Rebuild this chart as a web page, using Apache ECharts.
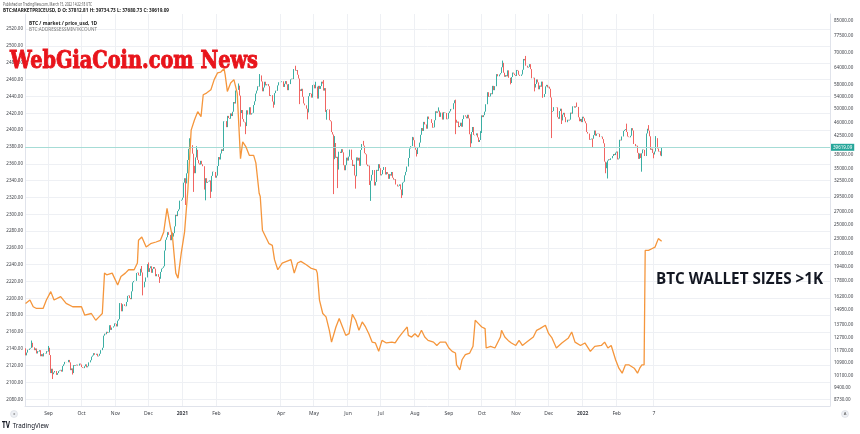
<!DOCTYPE html>
<html><head><meta charset="utf-8">
<script src="https://cdn.jsdelivr.net/npm/echarts@6/dist/echarts.min.js"></script>
<style>html,body{margin:0;padding:0;background:#fff}#c{width:860px;height:434px}</style>
</head><body><div id="c"></div><script>
// ---------------- DATA ----------------
const startDate = '2020-08-11';     // first daily candle / first category
const axisDays = 734;               // categories on the time axis (incl. empty future space)
const btcFirstOpen = 11880;         // open of the first candle (previous close)
// BTC daily closes, 2020-08-11 .. 2022-03-14
const btcClose = [
11390,11580,11780,11770,11860,11910,12280,11950,11750,11870,11520,11680,11650,11750,11330,11470,11320,11540,11510,11680,11650,
11920,11410,10240,10510,10170,10280,10370,10130,10240,10360,10400,10440,10330,10680,10790,10950,10940,10930,11080,10920,10420,10530,10240,10740,10690,10730,10770,10710,10840,10780,
10620,10570,10550,10670,10790,10600,10670,10920,11060,11300,11380,11540,11430,11430,11500,11320,11360,11500,11750,11920,12820,12970,12930,13120,13030,13070,13650,13270,13460,13560,13800,
13760,13550,14030,14150,15590,15580,14840,15480,15330,15300,15700,16280,16320,16070,15960,16730,17660,17800,17820,18680,18720,18420,18370,19160,18740,17150,17140,17720,18180,19700,
18800,19220,19450,18700,19150,19360,19170,18320,18550,18250,18040,18800,19170,19270,19440,21380,22800,23140,23870,23480,22740,23820,23240,23730,24710,26490,26280,27080,27360,28840,29000,
29370,32130,33000,31990,33990,36820,39370,40800,40250,38240,35540,34010,37390,39150,36830,36070,35820,36630,35890,35470,30830,33000,32100,32290,32370,32570,30430,33470,34320,34270,33110,
33520,35510,37470,36930,38290,39260,38870,46450,46500,44850,47990,47380,47170,48720,47940,49200,52150,51680,55890,56100,57540,54200,48820,49710,47070,46340,46160,45140,
49630,48380,50540,48370,48750,48880,51210,52380,54880,55860,57330,57210,61190,59000,55630,56900,58910,57650,58030,58100,57350,54100,54340,52300,51320,55020,55840,55780,57630,58730,58740,
58760,59050,57100,58200,59130,57990,56000,58090,58090,59770,60000,59860,63570,62960,63220,61440,60060,56270,55710,56470,53810,51700,51140,50100,49000,54020,55030,54820,53560,57750,
57830,56630,57210,53240,57470,56430,57380,58930,58280,55860,56700,49150,49720,49880,46760,46450,43540,42910,37000,40780,37300,37530,34770,38700,38400,39290,38550,35680,34620,35690,37340,
36690,37580,39190,36850,35520,35800,33550,33400,37390,36690,37310,35550,39100,40520,40140,38350,38100,35820,35480,35600,31680,32510,33680,34660,31590,32280,34700,34500,35910,35040,
33570,33800,34670,35290,33750,34240,33860,32880,33820,33520,34260,33090,32730,32820,31780,31420,31530,31800,30840,29790,32140,32310,33580,34290,35400,37270,39460,40000,40030,42200,41460,
39850,39150,38150,39740,40870,42830,44610,43830,46290,45600,45560,44430,47790,47100,47050,45990,44690,44800,46760,49340,48880,49280,49510,47700,48960,46940,49060,48900,48830,47030,47170,
48850,49320,50030,49940,51770,52700,46880,46080,46370,44850,45160,46060,44960,47090,48150,47770,47290,48310,47260,42970,40700,43560,44890,42810,42700,43200,42170,41030,41520,43790,
48140,47640,48200,49220,51470,55320,53800,53930,54970,54660,57470,56000,57370,57350,61670,60870,61530,62040,64260,65990,62200,60690,61290,60860,63080,60320,58470,60590,62250,61880,61320,
61000,63230,62940,61440,61010,61530,63300,67550,66970,64880,64860,64150,64400,65470,63560,60160,60350,56900,58120,59730,58700,56300,57570,57170,58960,53730,54740,57290,57810,56950,
57180,56480,53600,49200,49400,50580,50600,50500,47600,47150,49400,50100,46700,48380,48870,47640,46200,46880,46680,46910,48930,48630,50820,50850,50430,50800,50640,47590,46470,47120,46220,
47740,47310,46460,45900,43570,43150,41560,41680,41870,41830,42740,43950,42590,43100,43180,43090,42250,42370,41740,40700,36460,35050,36290,36690,36980,36830,37200,37720,38170,37920,38480,
38740,36950,37150,41570,41410,42410,43840,44110,44340,43570,42410,42240,42200,42580,44580,43960,40540,40010,40120,38430,37070,38290,37260,38330,39220,39120,37710,43190,
44420,43920,42450,39150,39400,38420,38060,38740,41980,39440,38730,38810,37812.81,39619.09
];
const btcHighWicks = [['2020-08-17',12450],['2020-09-01',12050],['2020-11-25',19480],['2020-12-01',19900],['2021-01-08',41950],['2021-01-14',40000],['2021-02-21',58300],['2021-03-13',61700],['2021-04-14',64850],['2021-05-03',58900],['2021-05-10',59500],['2021-05-20',42500],['2021-06-15',41300],['2021-07-30',42300],['2021-08-23',50500],['2021-09-07',52900],['2021-10-20',66900],['2021-11-10',68790],['2021-12-27',52000],['2022-02-10',45800],['2022-03-02',45400],['2022-03-09',42500],['2022-03-14',39734.73]];
const btcLowWicks = [['2020-09-05',9880],['2020-09-23',10150],['2020-11-26',16330],['2020-12-11',17600],['2021-01-04',28100],['2021-01-11',30400],['2021-01-22',28900],['2021-01-27',29300],['2021-02-23',45000],['2021-02-28',43000],['2021-03-25',50400],['2021-04-18',51500],['2021-04-25',47000],['2021-05-13',46900],['2021-05-19',30000],['2021-05-23',31100],['2021-06-08',31000],['2021-06-22',28800],['2021-07-20',29300],['2021-08-03',37600],['2021-09-07',43000],['2021-09-21',39600],['2021-10-01',43300],['2021-10-27',58000],['2021-11-18',55600],['2021-11-26',53500],['2021-12-04',42000],['2021-12-13',45700],['2022-01-10',39700],['2022-01-22',34000],['2022-01-24',32950],['2022-02-24',34320],['2022-03-07',37200],['2022-03-14',37680.73]];
// Addresses holding >= 1K BTC (left scale)
const addrSeries = [
['2020-08-11',2194],['2020-08-15',2198],['2020-08-18',2190],['2020-08-21',2188],['2020-08-27',2188],['2020-08-30',2198],['2020-09-03',2208],['2020-09-06',2198],['2020-09-12',2202],['2020-09-17',2194],['2020-09-23',2190],['2020-10-01',2190],['2020-10-04',2180],['2020-10-10',2182],['2020-10-14',2174],['2020-10-17',2178],['2020-10-20',2182],['2020-10-22',2230],['2020-10-24',2228],['2020-10-29',2230],['2020-11-03',2216],['2020-11-06',2226],['2020-11-10',2230],['2020-11-13',2234],['2020-11-18',2234],['2020-11-21',2242],['2020-11-22',2269],['2020-11-25',2273],['2020-11-29',2261],['2020-12-03',2265],['2020-12-08',2267],['2020-12-12',2269],['2020-12-15',2279],['2020-12-18',2307],['2020-12-21',2285],['2020-12-23',2273],['2020-12-26',2230],['2020-12-28',2224],['2020-12-31',2254],
['2021-01-03',2279],['2021-01-06',2329],['2021-01-09',2400],['2021-01-12',2412],['2021-01-15',2422],['2021-01-18',2416],['2021-01-20',2442],['2021-01-23',2444],['2021-01-27',2448],['2021-01-30',2460],['2021-02-02',2468],['2021-02-05',2469],['2021-02-08',2473],['2021-02-09',2466],['2021-02-11',2446],['2021-02-14',2456],['2021-02-17',2460],['2021-02-20',2444],['2021-02-22',2392],['2021-02-23',2366],['2021-02-25',2386],['2021-02-28',2380],['2021-03-03',2370],['2021-03-07',2370],['2021-03-09',2361],['2021-03-12',2325],['2021-03-13',2321],['2021-03-15',2281],['2021-03-18',2273],['2021-03-21',2265],['2021-03-24',2263],['2021-03-26',2246],['2021-03-29',2234],['2021-04-02',2242],['2021-04-06',2244],['2021-04-10',2246],['2021-04-13',2230],['2021-04-16',2242],['2021-04-19',2244],['2021-04-24',2240],['2021-04-28',2236],['2021-05-03',2234],['2021-05-04',2230],['2021-05-06',2198],['2021-05-09',2182],['2021-05-12',2178],['2021-05-15',2162],['2021-05-17',2148],['2021-05-21',2166],['2021-05-24',2176],['2021-05-27',2166],['2021-05-30',2156],['2021-06-02',2158],['2021-06-05',2181],['2021-06-08',2174],['2021-06-11',2162],['2021-06-14',2172],['2021-06-17',2166],['2021-06-20',2158],['2021-06-23',2148],['2021-06-26',2147],['2021-06-29',2137],['2021-07-02',2150],['2021-07-06',2147],['2021-07-11',2148],['2021-07-14',2147],['2021-07-17',2153],['2021-07-20',2158],['2021-07-25',2166],['2021-07-26',2156],['2021-07-29',2154],['2021-08-01',2158],['2021-08-04',2154],['2021-08-07',2162],['2021-08-10',2154],['2021-08-13',2150],['2021-08-18',2148],['2021-08-21',2144],['2021-08-24',2148],['2021-08-29',2148],['2021-09-01',2141],['2021-09-04',2137],['2021-09-07',2135],['2021-09-08',2121],['2021-09-11',2115],['2021-09-13',2127],['2021-09-16',2133],['2021-09-20',2135],['2021-09-23',2143],['2021-09-25',2174],['2021-09-28',2170],['2021-10-01',2166],['2021-10-04',2164],['2021-10-05',2141],['2021-10-09',2143],['2021-10-13',2141],['2021-10-18',2154],['2021-10-19',2162],['2021-10-22',2154],['2021-10-25',2150],['2021-10-28',2147],['2021-11-01',2144],['2021-11-04',2150],['2021-11-07',2144],['2021-11-11',2148],['2021-11-17',2154],['2021-11-20',2162],['2021-11-23',2164],['2021-11-28',2168],['2021-12-01',2158],['2021-12-04',2153],['2021-12-08',2141],['2021-12-13',2147],['2021-12-19',2153],['2021-12-22',2160],['2021-12-25',2148],['2021-12-30',2144],
['2022-01-03',2147],['2022-01-08',2137],['2022-01-12',2143],['2022-01-18',2144],['2022-01-21',2148],['2022-01-24',2141],['2022-01-27',2144],['2022-01-31',2127],['2022-02-03',2117],['2022-02-06',2111],['2022-02-09',2121],['2022-02-12',2121],['2022-02-17',2117],['2022-02-20',2111],['2022-02-22',2117],['2022-02-24',2121],['2022-02-26',2121],['2022-02-27',2257],['2022-03-02',2257],['2022-03-05',2259],['2022-03-08',2261],['2022-03-11',2271],['2022-03-14',2268]
];
const lastPrice = 39619.09;
const lastAddr = 2268;
const leftTicks = [2080,2100,2120,2140,2160,2180,2200,2220,2240,2260,2280,2300,2320,2340,2360,2380,2400,2420,2440,2460,2480,2500,2520];
const rightTicks = [85000,77500,70000,64000,58000,54000,50000,46000,42500,38000,35000,32500,29500,27000,25000,23000,21000,19400,17800,16200,14950,13700,12700,11700,10900,10100,9400,8730];
const xTickDates = ['2020-09-01','2020-10-01','2020-11-01','2020-12-01','2021-01-01','2021-02-01','2021-04-01','2021-05-01','2021-06-01','2021-07-01','2021-08-01','2021-09-01','2021-10-01','2021-11-01','2021-12-01','2022-01-01','2022-02-01','2022-03-07'];
const xTickLabels = ['Sep','Oct','Nov','Dec','2021','Feb','Apr','May','Jun','Jul','Aug','Sep','Oct','Nov','Dec','2022','Feb','7'];

// ---------------- BUILD ----------------
const t0 = Date.parse(startDate + 'T00:00:00Z');
const dayStr = i => new Date(t0 + i * 864e5).toISOString().slice(0, 10);
const categories = [];
for (let i = 0; i < axisDays; i++) categories.push(dayStr(i));
const hiMap = new Map(btcHighWicks), loMap = new Map(btcLowWicks);
const ln = Math.log;
const candles = btcClose.map((c, i) => {
  const o = i === 0 ? btcFirstOpen : btcClose[i - 1];
  const d = dayStr(i);
  let hi = Math.max(o, c), lo = Math.min(o, c);
  if (hiMap.has(d)) hi = Math.max(hi, hiMap.get(d));
  if (loMap.has(d)) lo = Math.min(lo, loMap.get(d));
  return [ln(o), ln(c), ln(lo), ln(hi)];
});
const tickSet = new Set(xTickDates);
const tickLabelMap = new Map(xTickDates.map((d, i) => [d, xTickLabels[i]]));

// layout constants (pixel geometry of the chart frame)
const GRID = { left: 25, right: 30, top: 14, bottom: 28 };
const leftMin = 2072.04, leftMax = 2538.04;
const rightLnMin = 9.03629, rightLnMax = 11.39064;

const measure = (() => { const cx = document.createElement('canvas').getContext('2d');
  return (text, font) => { cx.font = font; return cx.measureText(text).width; }; })();
function fitText(text, x, y, width, size, family, weight, color, strokeW) {
  const font = (weight || 'normal') + ' ' + size + 'px ' + family;
  const w = measure(text, font);
  const style = { text: text, fontSize: size, fontFamily: family, fontWeight: weight || 'normal', fill: color, textAlign: 'left', textVerticalAlign: 'middle' };
  if (strokeW) { style.stroke = color; style.lineWidth = strokeW; }
  return { type: 'text', x: x, y: y, scaleX: width / w, silent: true, z: 100, style: style };
}
const AX_FONT = 'Noto Sans';
const labelColor = '#3b3e45';
const gridColor = '#eef0f4';

const chart = echarts.init(document.getElementById('c'), null, { renderer: 'canvas' });
chart.setOption({
  animation: false,
  backgroundColor: '#ffffff',
  grid: GRID,
  xAxis: {
    type: 'category', data: categories, boundaryGap: true,
    axisLine: { show: true, lineStyle: { color: '#e0e3eb', width: 1 } },
    axisTick: { show: false },
    axisLabel: {
      interval: (idx, v) => tickSet.has(v),
      formatter: v => { const l = tickLabelMap.get(v) || ''; return /^\d{4}$/.test(l) ? '{b|' + l + '}' : l; },
      fontSize: 5, fontFamily: AX_FONT, color: labelColor, margin: 5,
      rich: { b: { fontSize: 5, fontWeight: 'bold', fontFamily: AX_FONT, color: labelColor } }
    },
    splitLine: { show: true, interval: (idx, v) => tickSet.has(v), lineStyle: { color: gridColor, width: 1 } }
  },
  yAxis: [
    { type: 'value', position: 'left', min: leftMin, max: leftMax,
      axisLine: { show: true, lineStyle: { color: '#e0e3eb' } },
      axisTick: { show: false, customValues: leftTicks },
      axisLabel: { customValues: leftTicks, formatter: v => v.toFixed(2), fontSize: 4.5, fontFamily: AX_FONT, color: labelColor, margin: 2 },
      splitLine: { show: true, lineStyle: { color: gridColor, width: 1 } } },
    { type: 'value', position: 'right', min: rightLnMin, max: rightLnMax,
      axisLine: { show: true, lineStyle: { color: '#e0e3eb' } },
      axisTick: { show: false, customValues: rightTicks.map(ln) },
      axisLabel: { customValues: rightTicks.map(ln), formatter: v => Math.round(Math.exp(v)).toFixed(2), fontSize: 4.5, fontFamily: AX_FONT, color: labelColor, margin: 4 },
      splitLine: { show: false } }
  ],
  series: [
    { type: 'candlestick', name: 'BTC', xAxisIndex: 0, yAxisIndex: 1, data: candles,
      barWidth: 1, clip: true,
      itemStyle: { color: '#26a69a', color0: '#ef5350', borderColor: '#26a69a', borderColor0: '#ef5350', borderWidth: 0.9 },
      markLine: { silent: true, symbol: 'none', animation: false,
        lineStyle: { color: '#a6dcd6', width: 1, type: 'solid' },
        label: { show: true, position: 'end', distance: 1, formatter: lastPrice.toFixed(2), color: '#fff', backgroundColor: '#26a69a', fontSize: 4.5, fontFamily: AX_FONT, padding: [1, 2] },
        data: [{ yAxis: ln(lastPrice) }] } },
    { type: 'line', name: 'ADDRESSES ≥1K', xAxisIndex: 0, yAxisIndex: 0, data: addrSeries,
      showSymbol: false, symbol: 'none', lineStyle: { color: '#f5963c', width: 1.3 }, z: 5,
      markLine: { silent: true, symbol: 'none', animation: false,
        lineStyle: { width: 0, opacity: 0 },
        label: { show: true, position: 'start', distance: 1, formatter: lastAddr.toFixed(2), color: '#fff', backgroundColor: '#f5963c', fontSize: 4.5, fontFamily: AX_FONT, padding: [1, 2] },
        data: [{ yAxis: lastAddr }] } }
  ],
  graphic: [
    fitText('Published on TradingView.com, March 15, 2022 14:22:18 UTC', 3, 5, 89, 5, AX_FONT, 'normal', '#555'),
    fitText('BTC:MARKETPRICEUSD, D O: 37812.81 H: 39734.73 L: 37680.73 C: 39619.09', 3, 10.7, 166, 5, AX_FONT, 'bold', '#222'),
    fitText('BTC / market / price_usd, 1D', 29, 24, 68, 5, AX_FONT, 'bold', '#222'),
    fitText('BTC:ADDRESSESSMIN1KCOUNT', 29, 30, 68, 5, AX_FONT, 'normal', '#777'),
    fitText('WebGiaCoin.com News', 10, 61, 248, 25, 'DejaVu Serif', 'bold', '#e8141b', 1),
    fitText('BTC WALLET SIZES >1K', 656, 280, 167, 15.5, 'Open Sans', 'bold', '#131722'),
    fitText('TV', 2, 426, 8, 8, 'DejaVu Sans', 'bold', '#131722'),
    fitText('TradingView', 12.7, 426, 36, 7, AX_FONT, 'normal', '#131722'),
    { type: 'circle', shape: { cx: 14, cy: 414, r: 3.5 }, silent: true, style: { fill: '#eef0f4', stroke: '#d1d4dc', lineWidth: 0.5 } },
    { type: 'text', x: 14, y: 414, silent: true, style: { text: '±', fontSize: 4, fill: '#555', textAlign: 'center', textVerticalAlign: 'middle' } },
    { type: 'circle', shape: { cx: 845, cy: 414, r: 3.5 }, silent: true, style: { fill: '#eef0f4', stroke: '#d1d4dc', lineWidth: 0.5 } },
    { type: 'text', x: 845, y: 414, silent: true, style: { text: 'A', fontSize: 4, fill: '#555', textAlign: 'center', textVerticalAlign: 'middle' } }
  ]
});
</script></body></html>
